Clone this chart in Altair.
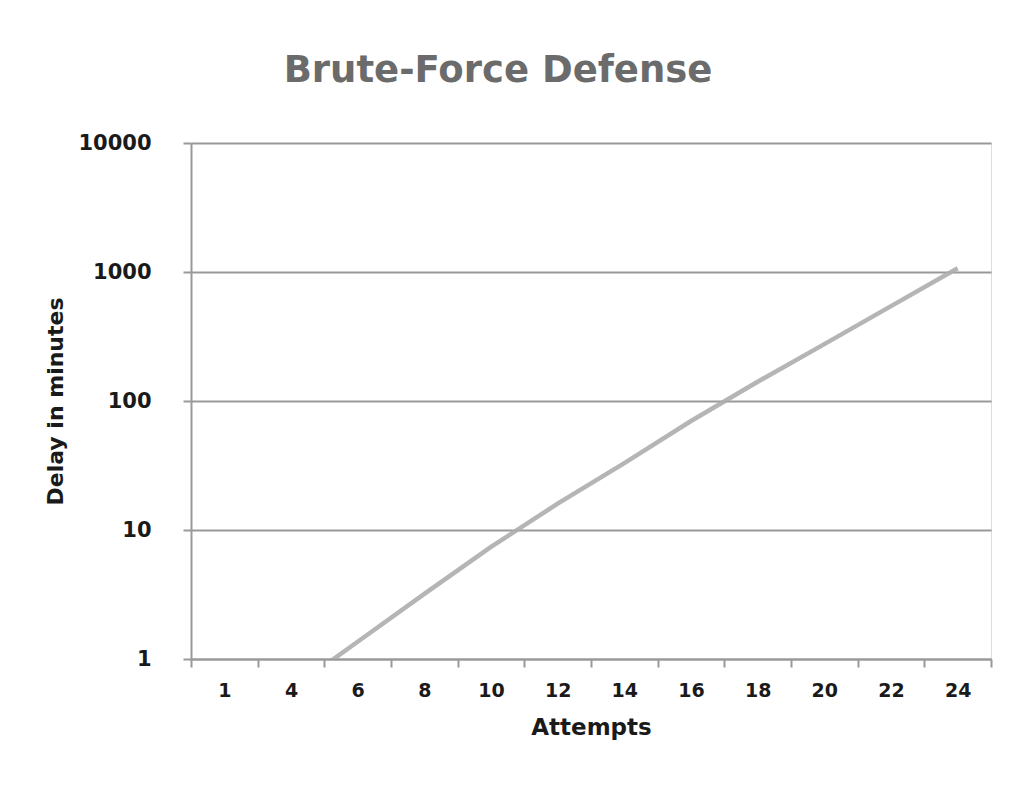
import altair as alt
import pandas as pd

categories = ["1", "4", "6", "8", "10", "12", "14", "16", "18", "20", "22", "24"]
line_attempts = ["4", "6", "8", "10", "12", "14", "16", "18", "20", "22", "24"]
delay_minutes = [0.58, 1.36, 3.2, 7.4, 16, 33, 70, 141, 276, 544, 1070]
y_ticks = [1, 10, 100, 1000, 10000]

df = pd.DataFrame({"Attempts": line_attempts, "Delay": delay_minutes})

FONT = "DejaVu Sans"

line = alt.Chart(df).mark_line(
    color="#adadad", strokeWidth=4.5, clip=True, opacity=0.9
).encode(
    x=alt.X(
        "Attempts:O",
        sort=categories,
        bandPosition=0.5,
        scale=alt.Scale(type="band", domain=categories, paddingInner=0, paddingOuter=0),
        axis=alt.Axis(
            title="Attempts",
            labelAngle=0,
            tickBand="extent",
            grid=False,
            domainColor="#999999",
            domainWidth=2,
            tickColor="#999999",
            tickWidth=2,
            tickSize=8,
            labelPadding=14,
            labelFont=FONT,
            labelFontWeight="bold",
            labelFontSize=19,
            labelColor="#1a1a1a",
            titleFont=FONT,
            titleFontWeight="bold",
            titleFontSize=23,
            titleColor="#1a1a1a",
            titlePadding=16,
        ),
    ),
    y=alt.Y(
        "Delay:Q",
        scale=alt.Scale(type="log", domain=[1, 10000], nice=False),
        axis=alt.Axis(
            title="Delay in minutes",
            values=y_ticks,
            format="d",
            grid=True,
            gridColor="#999999",
            gridWidth=2,
            domainColor="#999999",
            domainWidth=2,
            tickColor="#999999",
            tickWidth=2,
            tickSize=8,
            labelPadding=32,
            labelFont=FONT,
            labelFontWeight="bold",
            labelFontSize=21,
            labelColor="#1a1a1a",
            titleFont=FONT,
            titleFontWeight="bold",
            titleFontSize=22,
            titleColor="#1a1a1a",
            titlePadding=10,
        ),
    ),
)

chart = line.properties(
    width=800,
    height=516,
    title=alt.TitleParams(
        "Brute-Force Defense",
        font=FONT,
        fontSize=37,
        fontWeight="bold",
        color="#6b6b6b",
        anchor="middle",
        dx=-93,
        offset=42,
    ),
    padding={"left": 36, "top": 44, "right": 10, "bottom": 10},
).configure_view(stroke=None).configure(background="white")

chart.save("out.html", embed_options={"renderer": "svg", "actions": False})
